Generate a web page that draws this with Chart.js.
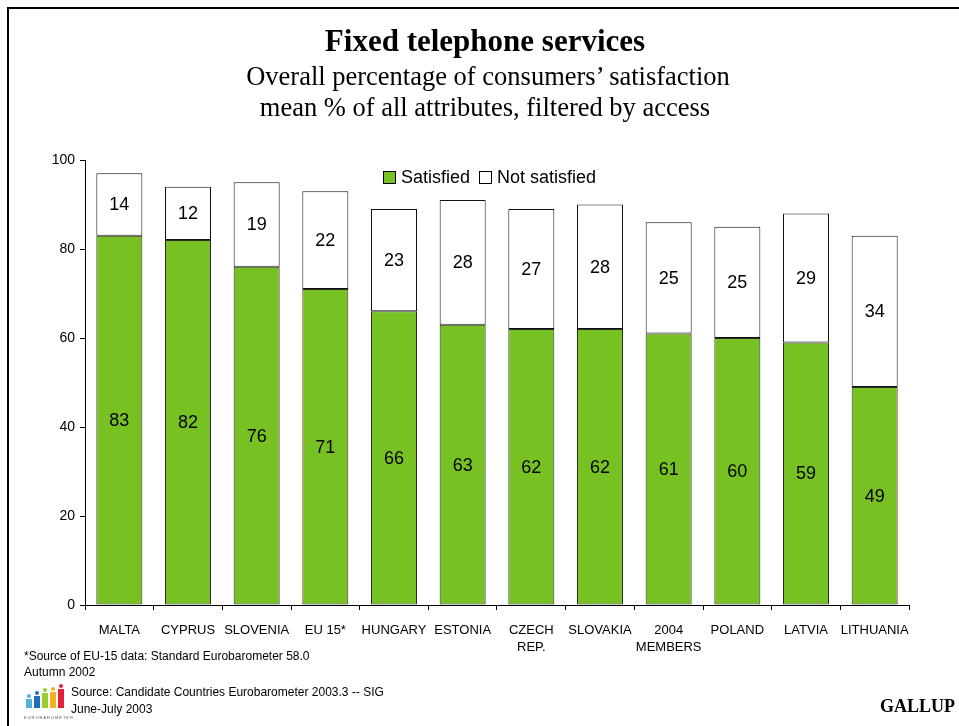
<!DOCTYPE html>
<html>
<head>
<meta charset="utf-8">
<script src="https://cdn.jsdelivr.net/npm/chart.js@4/dist/chart.umd.min.js"></script>
<style>
  html, body { margin: 0; padding: 0; background: #fff; }
  #page { position: relative; width: 959px; height: 726px; overflow: hidden; font-family: "Liberation Sans", Arial, sans-serif; }
  #frame { position: absolute; left: 7px; top: 7px; width: 960px; height: 730px; border-left: 2px solid #000; border-top: 2px solid #000; }
  #chart { position: absolute; left: 0; top: 0; }
  .t { position: absolute; white-space: nowrap; }
  .serif { font-family: "Liberation Serif", "Times New Roman", serif; }
  #title { left: 0; width: 970px; text-align: center; top: 23px; font-size: 31px; font-weight: bold; }
  #sub1 { left: 0; width: 976px; text-align: center; top: 61px; font-size: 26.5px; }
  #sub2 { left: 0; width: 970px; text-align: center; top: 92px; font-size: 26.5px; }
  #legend { left: 383px; top: 167px; font-size: 18px; display: flex; align-items: center; }
  .sw { display: inline-block; width: 11px; height: 11px; border: 1px solid #000; margin-right: 5px; }
  .foot { font-size: 12px; color: #000; }
  #logo { position: absolute; left: 26px; top: 684px; width: 40px; height: 36px; }
  #logo div { position: absolute; }
  #gallup { right: 4px; top: 696px; font-size: 18px; font-weight: bold; }
</style>
</head>
<body>
<div id="page">
  <div id="frame"></div>
  <canvas id="chart" width="959" height="726"></canvas>
  <div id="title" class="t serif">Fixed telephone services</div>
  <div id="sub1" class="t serif">Overall percentage of consumers’ satisfaction</div>
  <div id="sub2" class="t serif">mean % of all attributes, filtered by access</div>
  <div id="legend" class="t"></div>
  <div class="t foot" style="left:24px; top:649px;">*Source of EU-15 data: Standard Eurobarometer 58.0</div>
  <div class="t foot" style="left:24px; top:665px;">Autumn 2002</div>
  <div class="t foot" style="left:71px; top:685px;">Source: Candidate Countries Eurobarometer 2003.3 -- SIG</div>
  <div class="t foot" style="left:71px; top:702px;">June-July 2003</div>
  <div id="logo"></div>
  <div id="gallup" class="t serif">GALLUP</div>
</div>
<script>
const categories = ["MALTA", "CYPRUS", "SLOVENIA", "EU 15*", "HUNGARY", "ESTONIA",
  ["CZECH", "REP."], "SLOVAKIA", ["2004", "MEMBERS"], "POLAND", "LATVIA", "LITHUANIA"];
const satisfied = [83, 82, 76, 71, 66, 63, 62, 62, 61, 60, 59, 49];
const notSatisfied = [14, 12, 19, 22, 23, 28, 27, 28, 25, 25, 29, 34];
const yTicks = [0, 20, 40, 60, 80, 100];

const GREEN = "#77c123";

// legend
const legend = document.getElementById("legend");
[["Satisfied", GREEN], ["Not satisfied", "#fff"]].forEach(([txt, c], i) => {
  const s = document.createElement("span");
  s.className = "sw"; s.style.background = c;
  if (i) s.style.marginLeft = "9px";
  legend.appendChild(s);
  legend.appendChild(document.createTextNode(txt));
});

// little eurobarometer mark: figures of rising height
const logo = document.getElementById("logo");
const figs = [["#4fb3e0", 9, 0], ["#1f6fb8", 12, 8], ["#9ccc2e", 15, 16], ["#f2b21c", 16, 24], ["#e3203a", 19, 32]];
figs.forEach(([c, h, x]) => {
  const head = document.createElement("div");
  Object.assign(head.style, { left: (x + 1) + "px", top: (24 - h - 5) + "px", width: "4px", height: "4px", borderRadius: "2px", background: c });
  const body = document.createElement("div");
  Object.assign(body.style, { left: x + "px", top: (24 - h) + "px", width: "6px", height: h + "px", background: c });
  logo.appendChild(head); logo.appendChild(body);
});
const lt = document.createElement("div");
Object.assign(lt.style, { left: "-2px", top: "31px", fontSize: "4px", letterSpacing: "1px", color: "#555" });
lt.textContent = "EUROBAROMETER";
logo.appendChild(lt);

// values printed in the middle of each segment
const valueLabels = {
  id: "valueLabels",
  afterDatasetsDraw(chart) {
    const ctx = chart.ctx;
    ctx.save();
    ctx.font = "18px 'Liberation Sans', Arial, sans-serif";
    ctx.fillStyle = "#000";
    ctx.textAlign = "center";
    ctx.textBaseline = "middle";
    chart.data.datasets.forEach((ds, i) => {
      chart.getDatasetMeta(i).data.forEach((bar, j) => {
        ctx.fillText(ds.data[j], bar.x, (bar.y + bar.base) / 2 + 1);
      });
    });
    ctx.restore();
  },
};

new Chart(document.getElementById("chart"), {
  type: "bar",
  data: {
    labels: categories,
    datasets: [
      { label: "Satisfied", data: satisfied, backgroundColor: GREEN, borderColor: "#2a2a2a", borderWidth: 1, borderSkipped: false },
      { label: "Not satisfied", data: notSatisfied, backgroundColor: "#fff", borderColor: "#111", borderWidth: 1, borderSkipped: false },
    ],
  },
  options: {
    responsive: false, animation: false,
    categoryPercentage: 1, barPercentage: 0.67,
    layout: { padding: { top: 160, right: 50, bottom: 0, left: 0 } },
    plugins: { legend: { display: false }, tooltip: { enabled: false } },
    scales: {
      x: {
        stacked: true,
        grid: { drawOnChartArea: false, tickLength: 5, color: "#000" },
        border: { color: "#000" },
        ticks: { color: "#000", font: { family: "'Liberation Sans', Arial", size: 13, lineHeight: 1.3 }, padding: 12, maxRotation: 0, autoSkip: false },
        afterFit(s) { s.height = 121; },
      },
      y: {
        stacked: true, min: 0, max: 100,
        afterBuildTicks(s) { s.ticks = yTicks.map((v) => ({ value: v })); },
        grid: { drawOnChartArea: false, tickLength: 5, color: "#000" },
        border: { color: "#000" },
        ticks: { color: "#000", font: { family: "'Liberation Sans', Arial", size: 14 }, padding: 5 },
        afterFit(s) { s.width = 85; },
      },
    },
  },
  plugins: [valueLabels],
});
</script>
</body>
</html>
